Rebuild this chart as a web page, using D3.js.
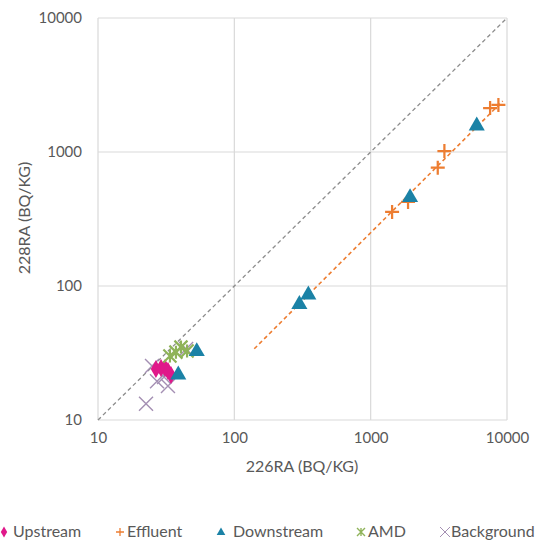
<!DOCTYPE html>
<html>
<head>
<meta charset="utf-8">
<script src="https://cdn.jsdelivr.net/npm/d3@7/dist/d3.min.js"></script>
<style>
  html, body { margin: 0; padding: 0; background: #fff; }
  svg { display: block; }
  text { font-family: Lato, "Open Sans", sans-serif; fill: #595959; }
</style>
</head>
<body>
<svg id="chart" width="548" height="541"></svg>
<script>
// ---- data ----
const seriesNames = ["Upstream", "Effluent", "Downstream", "AMD", "Background"];
const upstreamX = [26.6, 29.0, 31.0, 32.6, 34.3];
const upstreamY = [24.0, 24.4, 24.4, 23.2, 21.7];
const effluentX = [1436, 1880, 3105, 3474, 7516, 8650];
const effluentY = [357, 424, 764, 1016, 2128, 2244];
const downstreamX = [38.8, 53, 300, 349, 1945, 5998];
const downstreamY = [22, 32.9, 74, 87, 464, 1590];
const amdX = [33.7, 37.3, 40.6, 45.0];
const amdY = [30.0, 32.1, 35.0, 32.7];
const backgroundX = [24.9, 27.1, 30.5, 32.6, 22.5, 44.3];
const backgroundY = [25.3, 19.5, 20.9, 17.9, 13.2, 33.9];
const trendX = [140, 9300];
const trendY = [34, 2400];
const oneToOne = [10, 10000];
const tickValues = [10, 100, 1000, 10000];
const tickLabels = ["10", "100", "1000", "10000"];
const xTitle = "226RA (BQ/KG)";
const yTitle = "228RA (BQ/KG)";

(function () {
const colors = {
  Upstream: "#e0188a",
  Effluent: "#ed7d31",
  Downstream: "#1b82a6",
  AMD: "#8fb359",
  Background: "#a48fb3"
};

const svg = d3.select("#chart");
const pL = 98, pR = 507, pT = 18, pB = 420;
const x = d3.scaleLog().domain([10, 10000]).range([pL, pR]);
const y = d3.scaleLog().domain([10, 10000]).range([pB, pT]);

// gridlines
const grid = svg.append("g");
grid.selectAll("line.v").data(tickValues).join("line").attr("class", "v")
  .attr("x1", d => x(d)).attr("x2", d => x(d))
  .attr("y1", pT).attr("y2", pB)
  .attr("stroke", "#d9d9d9").attr("stroke-width", 1.2);
grid.selectAll("line.h").data(tickValues).join("line").attr("class", "h")
  .attr("y1", d => y(d)).attr("y2", d => y(d))
  .attr("x1", pL).attr("x2", pR)
  .attr("stroke", "#d9d9d9").attr("stroke-width", 1.2);

// axes (labels only)
const xAxis = d3.axisBottom(x).tickValues(tickValues).tickFormat((d, i) => tickLabels[i]).tickSize(0).tickPadding(12);
const gx = svg.append("g").attr("transform", `translate(0,${pB})`).call(xAxis);
gx.select(".domain").remove();
gx.selectAll("text").attr("font-size", 15).style("font-family", "Lato, sans-serif").attr("fill", "#595959");

const yAxis = d3.axisLeft(y).tickValues(tickValues).tickFormat((d, i) => tickLabels[i]).tickSize(0).tickPadding(16);
const gy = svg.append("g").attr("transform", `translate(${pL},0)`).call(yAxis);
gy.select(".domain").remove();
gy.selectAll("text").attr("font-size", 15).style("font-family", "Lato, sans-serif").attr("fill", "#595959");

// axis titles
svg.append("text").attr("x", 302).attr("y", 472).attr("text-anchor", "middle")
  .attr("font-size", 16).text(xTitle);
svg.append("text").attr("transform", "translate(30,218) rotate(-90)").attr("text-anchor", "middle")
  .attr("font-size", 16).text(yTitle);

// 1:1 line
svg.append("line")
  .attr("x1", x(oneToOne[0])).attr("y1", y(oneToOne[0]))
  .attr("x2", x(oneToOne[1])).attr("y2", y(oneToOne[1]))
  .attr("stroke", "#8c8c8c").attr("stroke-width", 1.3).attr("stroke-dasharray", "4,3");

// trendline
svg.append("line")
  .attr("x1", x(trendX[0])).attr("y1", y(trendY[0]))
  .attr("x2", x(trendX[1])).attr("y2", y(trendY[1]))
  .attr("stroke", colors.Effluent).attr("stroke-width", 1.6).attr("stroke-dasharray", "4,3");

// marker drawers
function drawMarker(g, type, cx, cy, s, color) {
  if (type === "Upstream") {
    g.append("path").attr("d", d3.symbol(d3.symbolDiamond, s * s * 0.55)())
      .attr("transform", `translate(${cx},${cy})`).attr("fill", color);
  } else if (type === "Downstream") {
    g.append("path").attr("d", d3.symbol(d3.symbolTriangle, s * s * 0.5)())
      .attr("transform", `translate(${cx},${cy + s * 0.05})`).attr("fill", color);
  } else if (type === "Effluent") {
    const h = s / 2;
    g.append("path").attr("d", `M${cx - h},${cy}H${cx + h}M${cx},${cy - h}V${cy + h}`)
      .attr("stroke", color).attr("stroke-width", s * 0.16).attr("fill", "none");
  } else if (type === "Background") {
    const h = s / 2;
    g.append("path").attr("d", `M${cx - h},${cy - h}L${cx + h},${cy + h}M${cx - h},${cy + h}L${cx + h},${cy - h}`)
      .attr("stroke", color).attr("stroke-width", s * 0.1).attr("fill", "none");
  } else if (type === "AMD") {
    const h = s / 2;
    g.append("path").attr("d", `M${cx - h},${cy - h}L${cx + h},${cy + h}M${cx - h},${cy + h}L${cx + h},${cy - h}M${cx},${cy - h}V${cy + h}`)
      .attr("stroke", color).attr("stroke-width", s * 0.17).attr("fill", "none");
  }
}

const seriesData = {
  Upstream: [upstreamX, upstreamY],
  Effluent: [effluentX, effluentY],
  Downstream: [downstreamX, downstreamY],
  AMD: [amdX, amdY],
  Background: [backgroundX, backgroundY]
};
const markerSize = { Upstream: 13, Effluent: 14, Downstream: 15, AMD: 13, Background: 14 };
const drawOrder = ["Background", "Upstream", "Effluent", "AMD", "Downstream"];

const pts = svg.append("g");
drawOrder.forEach(name => {
  const [xs, ys] = seriesData[name];
  xs.forEach((v, i) => drawMarker(pts, name, x(v), y(ys[i]), markerSize[name], colors[name]));
});

// legend
const legendMarkerX = [4, 120, 221, 361, 445];
const legendTextX = [13, 127, 233, 368, 451];
const legY = 532;
const leg = svg.append("g");
seriesNames.forEach((name, i) => {
  drawMarker(leg, name, legendMarkerX[i], legY, name === "Background" ? 10 : 8, colors[name]);
  leg.append("text").attr("x", legendTextX[i]).attr("y", legY + 5)
    .attr("font-size", 16).text(name);
});
})();
</script>
</body>
</html>
